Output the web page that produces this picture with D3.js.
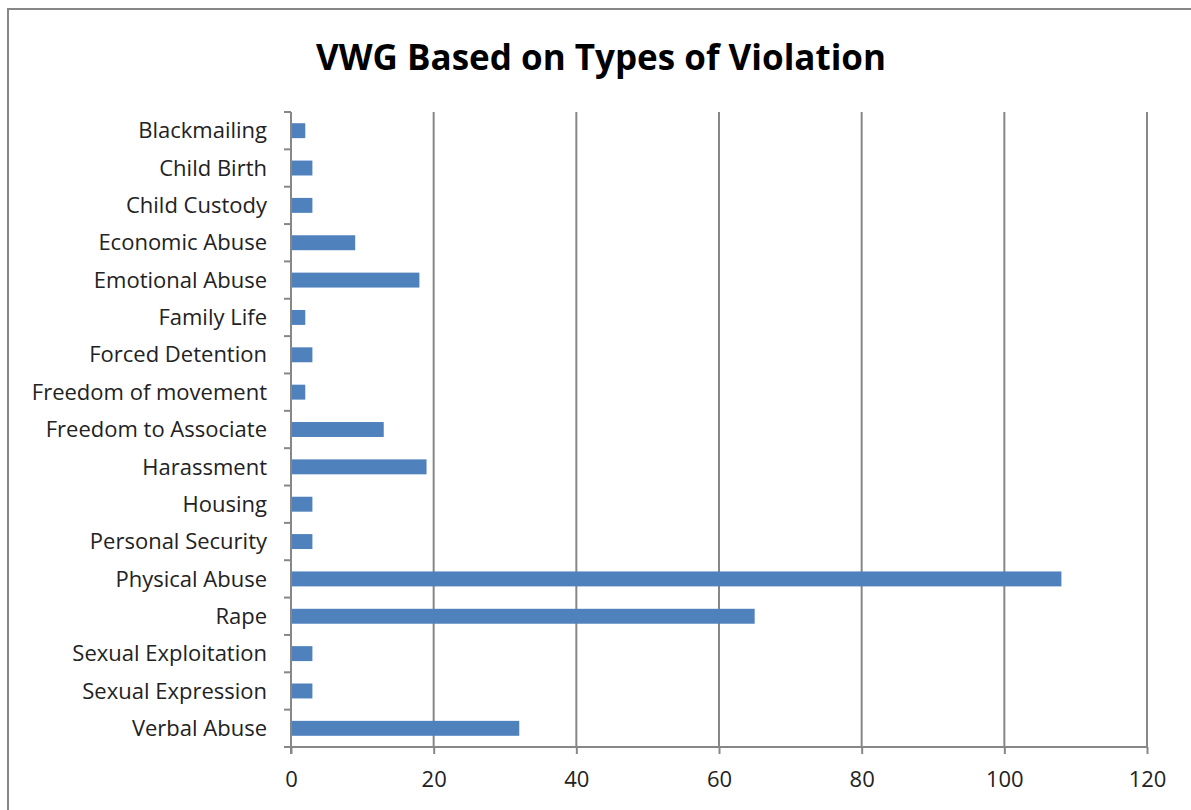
<!DOCTYPE html>
<html>
<head>
<meta charset="utf-8">
<script src="https://cdn.jsdelivr.net/npm/d3@7"></script>
<style>
  body { margin: 0; background: #fff; }
  text { font-family: "Open Sans", "Liberation Sans", sans-serif; fill: #222; }
</style>
</head>
<body>
<div class="chart"></div>
<script>
// Data
var categories = ["Blackmailing", "Child Birth", "Child Custody", "Economic Abuse",
    "Emotional Abuse", "Family Life", "Forced Detention", "Freedom of movement",
    "Freedom to Associate", "Harassment", "Housing", "Personal Security",
    "Physical Abuse", "Rape", "Sexual Exploitation", "Sexual Expression", "Verbal Abuse"];
var values = [2, 3, 3, 9, 18, 2, 3, 2, 13, 19, 3, 3, 108, 65, 3, 3, 32];
var xTicks = [0, 20, 40, 60, 80, 100, 120];
var title = "VWG Based on Types of Violation";

var svgwidth = 1191;
var svgheight = 810;

var margin = { top: 112, right: 44, bottom: 63, left: 291 };
var width = svgwidth - margin.left - margin.right;
var height = svgheight - margin.top - margin.bottom;

var svg = d3.select(".chart")
    .append("svg")
    .attr("width", svgwidth)
    .attr("height", svgheight);

// outer chart frame
svg.append("rect")
    .attr("x", 8)
    .attr("y", 9)
    .attr("width", svgwidth + 20)
    .attr("height", svgheight + 20)
    .attr("fill", "none")
    .attr("stroke", "#878787")
    .attr("stroke-width", 2);

svg.append("text")
    .attr("x", 601)
    .attr("y", 70)
    .attr("text-anchor", "middle")
    .attr("font-size", "35px")
    .attr("font-weight", "bold")
    .style("fill", "#000")
    .text(title);

var chartGroup = svg.append("g")
    .attr("transform", `translate(${margin.left}, ${margin.top})`);

var xScale = d3.scaleLinear()
    .domain([0, 120])
    .range([0, width]);

var yScale = d3.scaleBand()
    .domain(categories)
    .range([0, height])
    .paddingInner(0.6)
    .paddingOuter(0.3);

// gridlines
chartGroup.selectAll(".grid")
    .data(xTicks.slice(1))
    .enter()
    .append("line")
    .attr("x1", d => xScale(d))
    .attr("x2", d => xScale(d))
    .attr("y1", 0)
    .attr("y2", height)
    .attr("stroke", "#878787")
    .attr("stroke-width", 2);

// bars
chartGroup.selectAll("rect.bar")
    .data(values)
    .enter()
    .append("rect")
    .attr("class", "bar")
    .attr("x", 0)
    .attr("y", (d, i) => yScale(categories[i]))
    .attr("width", d => xScale(d))
    .attr("height", yScale.bandwidth())
    .attr("fill", "#4f81bd");

// bottom axis
var bottomAxis = d3.axisBottom(xScale)
    .tickValues(xTicks)
    .tickSize(7)
    .tickPadding(17);

var xAxis = chartGroup.append("g")
    .attr("transform", `translate(0, ${height})`)
    .call(bottomAxis);
xAxis.select(".domain").remove();
xAxis.append("line")
    .attr("x1", 0).attr("x2", width)
    .attr("stroke", "#878787").attr("stroke-width", 2);
xAxis.selectAll(".tick line").attr("stroke", "#878787").attr("stroke-width", 2);
xAxis.selectAll("text").attr("font-size", "22px").style("fill", "#222");

// left axis: ticks sit between categories
var step = height / categories.length;
var yAxisG = chartGroup.append("g");
yAxisG.append("line")
    .attr("x1", 0).attr("x2", 0)
    .attr("y1", 0).attr("y2", height + 7)
    .attr("stroke", "#878787").attr("stroke-width", 2);
yAxisG.selectAll(".ytick")
    .data(d3.range(categories.length + 1))
    .enter()
    .append("line")
    .attr("x1", -7).attr("x2", 0)
    .attr("y1", d => d * step)
    .attr("y2", d => d * step)
    .attr("stroke", "#878787").attr("stroke-width", 2);

yAxisG.selectAll(".ylabel")
    .data(categories)
    .enter()
    .append("text")
    .attr("x", -24)
    .attr("y", d => yScale(d) + yScale.bandwidth() / 2)
    .attr("dy", "0.35em")
    .attr("text-anchor", "end")
    .attr("font-size", "22px")
    .text(d => d);
</script>
</body>
</html>
